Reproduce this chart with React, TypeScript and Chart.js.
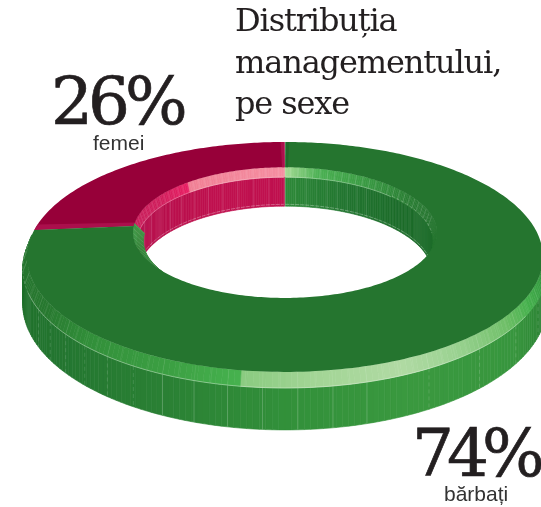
import React, { useEffect, useRef } from "react";
import { Chart, ArcElement, DoughnutController, registerables } from "chart.js";

const categories = ["femei", "bărbați"];
const shares = [26, 74];
const sliceColors = ["#970039", "#25752f"];
const titleLines = ["Distribuția", "managementului,", "pe sexe"];

type Stops = [number, string][];
const hexRgb = (h: string) => [1, 3, 5].map((i) => parseInt(h.slice(i, i + 2), 16));
const shade = (stops: Stops, d: number) => {
  if (d <= stops[0][0]) return stops[0][1];
  for (let i = 1; i < stops.length; i++) {
    if (d <= stops[i][0]) {
      const [a, ca] = stops[i - 1];
      const [b, cb] = stops[i];
      const t = (d - a) / (b - a);
      const A = hexRgb(ca), B = hexRgb(cb);
      return `rgb(${A.map((v, j) => Math.round(v + (B[j] - v) * t)).join(",")})`;
    }
  }
  return stops[stops.length - 1][1];
};

const SHADES: Record<string, any> = {
  "#25752f": {
    outerBevel: [[0, "#25752f"], [20, "#27762f"], [30, "#3aa044"], [38, "#45b04c"], [47, "#6fbf68"], [60, "#9ad291"], [71, "#b0daa3"], [85, "#a3d596"], [96.9, "#8acb80"], [97, "#46b24e"], [110, "#3b9e42"], [125, "#32903a"], [140, "#27782f"], [178, "#25752f"]],
    outerWall: [[25, "#2a7d33"], [45, "#38963e"], [70, "#3a993f"], [90, "#32903a"], [110, "#2a8034"], [135, "#237530"], [165, "#1f6f2a"]],
    innerBevel: [[-90, "#a6dc95"], [-74, "#4bb053"], [-54, "#3c9e45"], [-25, "#2a7e34"], [-5, "#25752f"], [180, "#25752f"]],
    innerWall: [[-90, "#2f8a3a"], [-60, "#227530"], [-25, "#1d6b2a"], [180, "#1d6b2a"]],
    seam: "#1e6a2b",
  },
  "#970039": {
    outerBevel: [[0, "#970039"]],
    outerWall: [[0, "#970039"]],
    innerBevel: [[-186, "#c61a58"], [-155, "#d01e5c"], [-138.1, "#e81e63"], [-138, "#f07f94"], [-90, "#f58ea1"]],
    innerWall: [[-186, "#b30f4c"], [-120, "#c0114f"], [-90, "#c0114f"]],
    seam: "#ab0f4c",
  },
};

// perspective view of the ring
const CX = 285, CY = 219.7, SX = 244, SY = 102.9, K = 0.324;
const BEVEL_R = 0.015, BEVEL_Z = 9.8, WALL_Z = 42.3;
const DEG = Math.PI / 180;
const proj = (R: number, d: number, z: number): [number, number] => {
  const X = R * Math.cos(d * DEG), Y = R * Math.sin(d * DEG), w = 1 - K * Y;
  return [CX + (SX * X) / w, CY + (SY * Y) / w + z / Math.pow(w, 0.64)];
};

class Arc3D extends ArcElement {
  static id = "arc3d";
  draw(ctx: CanvasRenderingContext2D) {
    const self = this as any;
    const start = self.startAngle / DEG, end = self.endAngle / DEG;
    const rIn = self.innerRadius / self.outerRadius;
    const face = self.options.backgroundColor as string;
    const s = SHADES[face];
    const isRed = face === sliceColors[0];
    const a0 = isRed ? start - 2 : start + 0.15;
    const a1 = isRed ? end - 0.15 : end - 2;

    const fillBand = (R1: number, z1: number, R2: number, z2: number, stops: Stops, from: number, to: number) => {
      for (let d = from; d < to; d += 1) {
        const e = Math.min(d + 1, to);
        const q = [proj(R1, d, z1), proj(R1, e, z1), proj(R2, e, z2), proj(R2, d, z2)];
        ctx.beginPath();
        q.forEach((p, i) => (i ? ctx.lineTo(p[0], p[1]) : ctx.moveTo(p[0], p[1])));
        ctx.closePath();
        const c = shade(stops, (d + e) / 2);
        ctx.fillStyle = c;
        ctx.strokeStyle = c;
        ctx.lineWidth = 0.6;
        ctx.fill();
        ctx.stroke();
      }
    };
    const ticks = (R1: number, z1: number, R2: number, z2: number, from: number, to: number, step: number, alpha: number, dash: number[]) => {
      ctx.strokeStyle = `rgba(255,255,255,${alpha})`;
      ctx.lineWidth = 0.9;
      ctx.setLineDash(dash);
      for (let d = Math.ceil(from / step) * step; d < to; d += step) {
        const p = proj(R1, d, z1), q = proj(R2, d, z2);
        ctx.beginPath();
        ctx.moveTo(p[0], p[1]);
        ctx.lineTo(q[0], q[1]);
        ctx.stroke();
      }
      ctx.setLineDash([]);
    };
    const rim = (R: number, z: number, from: number, to: number, style: string, dash: number[] = []) => {
      if (to <= from) return;
      ctx.beginPath();
      for (let d = from; d <= to; d += 1) {
        const p = proj(R, d, z);
        d === from ? ctx.moveTo(p[0], p[1]) : ctx.lineTo(p[0], p[1]);
      }
      ctx.strokeStyle = style;
      ctx.lineWidth = 0.8;
      ctx.setLineDash(dash);
      ctx.stroke();
      ctx.setLineDash([]);
    };

    ctx.save();
    // outer side: only the part that faces the viewer
    const oFrom = Math.max(a0, 15), oTo = Math.min(a1, 172);
    if (oTo > oFrom) {
      const R = 1 + BEVEL_R;
      fillBand(R, BEVEL_Z, R, WALL_Z, s.outerWall, oFrom, oTo);
      ticks(R, BEVEL_Z, R, WALL_Z, 72, 112, 5.5, 0.22, []);
      ticks(R, BEVEL_Z, R, WALL_Z, 30, 72, 11, 0.16, [4, 3]);
      ticks(R, BEVEL_Z, R, WALL_Z, 112, 145, 5.5, 0.14, [4, 3]);
      fillBand(1, 0, R, BEVEL_Z, s.outerBevel, oFrom, oTo);
      ticks(1, 0, R, BEVEL_Z, 32, 150, 2.75, 0.09, []);
      ticks(1, 0, R, BEVEL_Z, 150, 172, 5.5, 0.18, []);
      rim(R, BEVEL_Z, 40, 150, "rgba(255,255,255,0.45)");
      rim(R, BEVEL_Z, 150, oTo, "rgba(255,255,255,0.22)", [3, 2]);
    }
    // inner side: seen through the hole
    const rB = rIn - BEVEL_R;
    const iTo = isRed ? a1 : Math.min(a1, 30);
    fillBand(rB, BEVEL_Z, rB, WALL_Z, s.innerWall, a0, iTo);
    fillBand(rIn, 0, rB, BEVEL_Z, s.innerBevel, a0, iTo);
    if (isRed) {
      ticks(rB, BEVEL_Z, rB, WALL_Z, a0, a1, 7.5, 0.14, []);
      ticks(rIn, 0, rB, BEVEL_Z, a0, a1, 3, 0.12, []);
    } else {
      ticks(rB, BEVEL_Z, rB, WALL_Z, -90, -45, 5, 0.13, []);
      ticks(rIn, 0, rB, BEVEL_Z, -90, 0, 3.5, 0.16, []);
      rim(rB, BEVEL_Z - 1, -35, 4, "rgba(255,255,255,0.3)", [3, 2]);
    }
    rim(rB, BEVEL_Z, a0, Math.min(iTo, -35), "rgba(255,255,255,0.4)");
    rim(rB, WALL_Z - 2, a0, iTo, "rgba(255,255,255,0.4)", [4, 1]);
    if (!isRed) {
      // small patch of the slice's inner side beside the left seam
      fillBand(rIn, 0, rIn - 0.04, BEVEL_Z, [[140, "#2c7a33"], [176, "#3d9a45"]], 140, a1 + 2);
      ticks(rIn, 0, rIn - 0.04, BEVEL_Z, 140, a1 + 2, 4, 0.12, []);
    }
    // top face
    ctx.beginPath();
    for (let d = a0; d <= a1; d += 1) {
      const p = proj(1, d, 0);
      d === a0 ? ctx.moveTo(p[0], p[1]) : ctx.lineTo(p[0], p[1]);
    }
    let p = proj(1, a1, 0);
    ctx.lineTo(p[0], p[1]);
    for (let d = a1; d >= a0; d -= 1) {
      p = proj(rIn, d, 0);
      ctx.lineTo(p[0], p[1]);
    }
    p = proj(rIn, a0, 0);
    ctx.lineTo(p[0], p[1]);
    ctx.closePath();
    ctx.fillStyle = face;
    ctx.fill();
    // slanted edges beside the seams
    const seam = (from: number, to: number) => {
      const q = [proj(1, from, 0), proj(1, to, 0), proj(rIn, to, 0), proj(rIn, from, 0)];
      ctx.beginPath();
      q.forEach((v, i) => (i ? ctx.lineTo(v[0], v[1]) : ctx.moveTo(v[0], v[1])));
      ctx.closePath();
      ctx.fillStyle = s.seam;
      ctx.fill();
    };
    if (isRed) {
      seam(a1 - 1.2, a1);
      seam(a0, a0 + 3);
    } else {
      seam(a0, a0 + 1.2);
    }
    ctx.restore();
  }
}

class Doughnut3D extends DoughnutController {
  static id = "doughnut3d";
  static defaults = { dataElementType: "arc3d" };
}

Chart.register(...registerables, Arc3D as any, Doughnut3D as any);

const textBase: React.CSSProperties = { position: "absolute", whiteSpace: "nowrap", color: "#231f20" };
const SERIF = '"DejaVu Serif", serif';
const SANS = '"Liberation Sans", sans-serif';
const bigText: React.CSSProperties = { ...textBase, fontFamily: SERIF, fontSize: 66, lineHeight: "90px", WebkitTextStroke: "0.7px #231f20" };

export default function App() {
  const ref = useRef<HTMLCanvasElement>(null);
  useEffect(() => {
    const total = shares.reduce((a, b) => a + b, 0);
    const chart = new Chart(ref.current!, {
      type: "doughnut3d" as any,
      data: {
        labels: categories,
        datasets: [{ data: shares, backgroundColor: sliceColors, borderWidth: 0 }],
      },
      options: {
        responsive: false,
        animation: false,
        events: [],
        cutout: "61%",
        rotation: (-360 * shares[0]) / total,
        plugins: { legend: { display: false }, tooltip: { enabled: false } },
      } as any,
    });
    return () => chart.destroy();
  }, []);
  return (
    <div style={{ position: "absolute", left: 0, top: 0, width: 541, height: 507, overflow: "hidden", background: "#fff" }}>
      <canvas ref={ref} width={541} height={507} style={{ position: "absolute", left: 0, top: 0 }} />
      {titleLines.map((t, i) => (
        <div key={t} style={{ ...textBase, left: 235, top: [0, 42, 83][i], fontFamily: SERIF, fontSize: 32, lineHeight: "40px", letterSpacing: -1.13 }}>
          {t}
        </div>
      ))}
      <div style={{ ...bigText, left: 51, top: 57, letterSpacing: -5 }}>{shares[0]}%</div>
      <div style={{ ...textBase, left: 93, top: 131, fontFamily: SANS, fontSize: 21, lineHeight: "24px", color: "#333" }}>{categories[0]}</div>
      <div style={{ ...bigText, left: 412, top: 409, letterSpacing: -7 }}>{shares[1]}%</div>
      <div style={{ ...textBase, left: 444, top: 482, fontFamily: SANS, fontSize: 21, lineHeight: "24px", color: "#333" }}>{categories[1]}</div>
    </div>
  );
}
